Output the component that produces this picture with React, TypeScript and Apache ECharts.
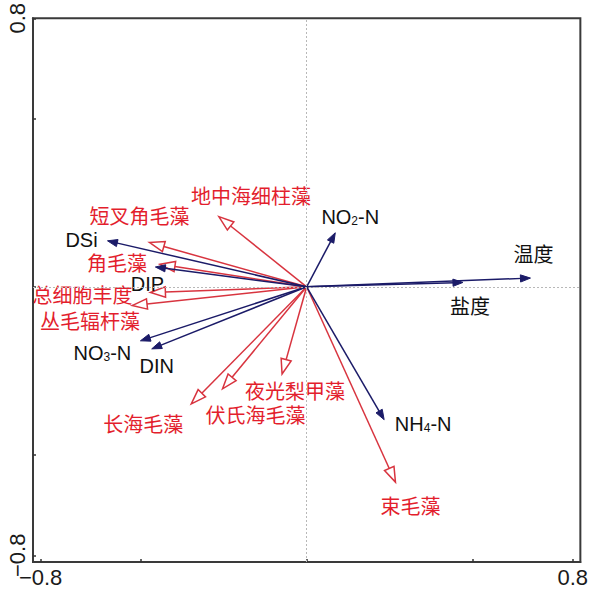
import React, { useEffect, useRef } from "react";
import * as echarts from "echarts";

// Environmental variables (blue arrows)
const envNames = ["DSi", "DIP", "NO3-N", "DIN", "NO2-N", "温度", "盐度", "NH4-N"];
const envX = [-0.599, -0.455, -0.5, -0.466, 0.086, 0.673, 0.47, 0.233];
const envY = [0.137, 0.059, -0.161, -0.185, 0.161, 0.026, 0.013, -0.396];

// Species (red arrows)
const sppNames = ["短叉角毛藻", "角毛藻", "地中海细柱藻", "总细胞丰度", "丛毛辐杆藻", "长海毛藻", "伏氏海毛藻", "夜光梨甲藻", "束毛藻"];
const sppX = [-0.473, -0.441, -0.264, -0.47, -0.525, -0.347, -0.253, -0.074, 0.267];
const sppY = [0.132, 0.067, 0.209, -0.017, -0.056, -0.349, -0.304, -0.26, -0.582];

// Axis ticks
const tickValues = [-0.8, -0.5, 0, 0.5, 0.8];
const labelValues = [-0.8, 0.8];

// Label placement (pixel offsets from arrow tip) – layout only
const envLabelOffsets = [[-26, -3], [-8, 15], [-38, 10], [5, 15], [15, -18], [3, -25], [7, 23], [39, 2]];
const sppLabelOffsets = [[-10, -28], [-43, -2], [32, -22], [-68, 1], [-42, 14], [-48, 19], [33, 25], [13, 16], [15, 23]];

const FONT = '"Liberation Sans", Arial, "Noto Sans CJK SC", sans-serif';
const AXIS_FONT = '"Liberation Sans", Arial, sans-serif';
const BLUE = "#1b1b68";
const RED_LINE = "#d8343f";
const RED_TEXT = "#e31e2d";

function richName(name: string) {
  const m = name.match(/^([A-Z]+)(\d)(-N)$/);
  if (m) return `{n|${m[1]}}{s|${m[2]}}{n|${m[3]}}`;
  return `{n|${name}}`;
}

function makeRender(filled: boolean, color: string, textColor: string, names: string[], offsets: number[][]) {
  return (params: any, api: any) => {
    const i = params.dataIndex;
    const x = api.value(0);
    const y = api.value(1);
    const p0 = api.coord([0, 0]);
    const p1 = api.coord([x, y]);
    const dx = p1[0] - p0[0];
    const dy = p1[1] - p0[1];
    const len = Math.sqrt(dx * dx + dy * dy) || 1;
    const ux = dx / len, uy = dy / len;
    const nx = -uy, ny = ux;
    const L = filled ? 10 : 15;
    const W = filled ? 3.6 : 5.2;
    const bx = p1[0] - ux * L, by = p1[1] - uy * L;
    const head = [
      [p1[0], p1[1]],
      [bx + nx * W, by + ny * W],
      [bx - nx * W, by - ny * W],
    ];
    const off = offsets[i] || [0, 0];
    return {
      type: "group",
      children: [
        {
          type: "line",
          shape: { x1: p0[0], y1: p0[1], x2: filled ? bx + ux * 2 : bx, y2: filled ? by + uy * 2 : by },
          style: { stroke: color, lineWidth: 1.5 },
        },
        {
          type: "polygon",
          shape: { points: head },
          style: filled
            ? { fill: color, stroke: color, lineWidth: 1 }
            : { fill: "#fff", stroke: color, lineWidth: 1.5 },
        },
        {
          type: "text",
          x: p1[0] + off[0],
          y: p1[1] + off[1],
          style: {
            text: richName(names[i]),
            align: "center",
            verticalAlign: "middle",
            fill: textColor,
            rich: {
              n: { fontSize: 20, fontFamily: FONT, fill: textColor, color: textColor, lineHeight: 24, verticalAlign: "bottom" },
              s: { fontSize: 12, fontFamily: FONT, fill: textColor, color: textColor, lineHeight: 9, verticalAlign: "bottom" },
            },
          },
        },
      ],
    };
  };
}

export default function App() {
  const ref = useRef<HTMLDivElement>(null);
  useEffect(() => {
    if (!ref.current) return;
    document.documentElement.style.overflow = "hidden";
    document.body.style.margin = "0";
    document.body.style.overflow = "hidden";
    const chart = echarts.init(ref.current, null, { renderer: "svg" });
    const fmt = (v: number) => (v < 0 ? "\u2212" + Math.abs(v).toFixed(1) : v.toFixed(1));
    const axisCommon = {
      type: "value",
      min: -0.823,
      max: 0.823,
      splitLine: { show: false },
      axisLine: { show: true, onZero: false, lineStyle: { color: "#3a3a3a", width: 2 } },
      axisTick: { show: true, inside: true, length: 3, customValues: tickValues, lineStyle: { color: "#333", width: 1.5 } },
      axisLabel: {
        customValues: labelValues,
        formatter: fmt,
        color: "#1a1a1a",
        fontSize: 22,
        fontFamily: AXIS_FONT,
      },
    };
    chart.setOption({
      animation: false,
      backgroundColor: "#ffffff",
      grid: { left: 33, right: 4, top: 17, bottom: 28, show: true, borderColor: "#3a3a3a", borderWidth: 2, backgroundColor: "transparent" },
      xAxis: { ...axisCommon, axisLabel: { ...axisCommon.axisLabel, margin: 4 } },
      yAxis: { ...axisCommon, min: -0.82, max: 0.8, axisLabel: { ...axisCommon.axisLabel, rotate: 90, margin: 5 } },
      series: [
        {
          type: "line",
          data: [],
          silent: true,
          markLine: {
            silent: true,
            symbol: "none",
            label: { show: false },
            lineStyle: { color: "#b8b8b8", type: [2, 2], width: 1 },
            data: [{ xAxis: 0 }, { yAxis: 0 }],
          },
        },
        {
          type: "custom",
          clip: false,
          renderItem: makeRender(false, RED_LINE, RED_TEXT, sppNames, sppLabelOffsets),
          data: sppX.map((v, i) => [v, sppY[i]]),
        },
        {
          type: "custom",
          clip: false,
          renderItem: makeRender(true, BLUE, "#111", envNames, envLabelOffsets),
          data: envX.map((v, i) => [v, envY[i]]),
        },
      ],
    });
    return () => chart.dispose();
  }, []);
  return <div ref={ref} style={{ position: "fixed", left: 0, top: 0, width: 591, height: 590, background: "#fff" }} />;
}
